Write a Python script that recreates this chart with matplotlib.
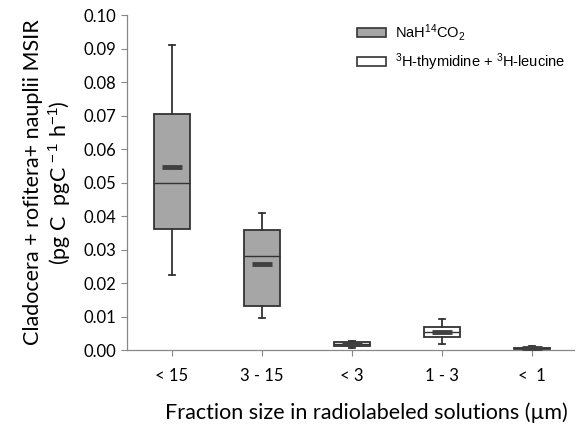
import numpy as np
import matplotlib
matplotlib.use("Agg")
from matplotlib import pyplot as plt
from matplotlib.patches import Patch

plt.rcParams['mathtext.fontset'] = 'custom'
plt.rcParams['mathtext.rm'] = 'Liberation Sans'
plt.rcParams['mathtext.it'] = 'Liberation Sans:italic'

# values
categories = ['< 15', '3 - 15', '< 3', '1 - 3', '<  1']
whislo = [0.0224, 0.0095, 0.0006, 0.0018, 0.0002]
q1 = [0.0361, 0.0132, 0.0011, 0.0040, 0.0003]
med = [0.0500, 0.0280, 0.0018, 0.0053, 0.0005]
q3 = [0.0704, 0.0359, 0.0025, 0.0069, 0.0007]
whishi = [0.0912, 0.0409, 0.0028, 0.0093, 0.0013]
means = [0.0545, 0.0257, 0.0018, 0.0055, 0.0006]
tracer = ['c14', 'c14', 'th', 'th', 'th']
colors = {'c14': '#a6a6a6', 'th': '#ffffff'}
yticks = [0.00, 0.01, 0.02, 0.03, 0.04, 0.05, 0.06, 0.07, 0.08, 0.09, 0.10]

fig = plt.figure(figsize=(5.77, 4.24), dpi=100)
ax = fig.add_axes([0.220, 0.1745, 0.775, 0.790])

stats = []
for i in range(len(categories)):
    stats.append(dict(whislo=whislo[i], q1=q1[i], med=med[i], q3=q3[i],
                      whishi=whishi[i], fliers=[], label=categories[i]))
pos = np.arange(1, len(categories) + 1)
bp = ax.bxp(stats, positions=pos, widths=0.4, patch_artist=True, showfliers=False,
            capwidths=0.07,
            boxprops=dict(edgecolor='#333333', linewidth=1.3),
            medianprops=dict(color='#333333', linewidth=1.0),
            whiskerprops=dict(color='#333333', linewidth=1.3),
            capprops=dict(color='#333333', linewidth=1.3))
for b, t in zip(bp['boxes'], tracer):
    b.set_facecolor(colors[t])
ax.plot(pos, means, linestyle='none', marker='_', markersize=14, mew=3.5, color='#404040', zorder=5)

ax.set_xlim(0.5, 5.47)
ax.set_ylim(0, 0.10)
ax.set_yticks(yticks)
ax.set_yticklabels(['%.2f' % v for v in yticks], family='Lato', fontsize=12)
ax.set_xticks(pos)
ax.set_xticklabels(categories, family='Lato', fontsize=12)
ax.tick_params(axis='both', color='#888888', length=4, width=0.8)
ax.tick_params(axis='x', pad=9)
for s in ['top', 'right']:
    ax.spines[s].set_visible(False)
for s in ['left', 'bottom']:
    ax.spines[s].set_color('#888888')
    ax.spines[s].set_linewidth(0.9)

ax.set_ylabel('Cladocera + rofitera+ nauplii MSIR\n(pg C  pgC$^{\\,-1}$ h$^{-1}$)',
              family='Lato', fontsize=15.5, linespacing=1.15, labelpad=8)
ax.set_xlabel('Fraction size in radiolabeled solutions (µm)', family='Lato', fontsize=15.5, labelpad=10)
ax.xaxis.set_label_coords(0.535, -0.155)

handles = [Patch(facecolor=colors['c14'], edgecolor='#333333', linewidth=1.2),
           Patch(facecolor=colors['th'], edgecolor='#333333', linewidth=1.2)]
labels = ['NaH$^{14}$CO$_2$', '$^3$H-thymidine + $^3$H-leucine']
fig.legend(handles, labels, loc='upper left', bbox_to_anchor=(357 / 577, 1 - 22 / 424),
           frameon=False, prop={'family': 'Liberation Sans', 'size': 10.5},
           handlelength=2.0, handleheight=0.65, handletextpad=0.6, labelspacing=0.55,
           borderpad=0, borderaxespad=0)

fig.savefig('out.png', dpi=100)
